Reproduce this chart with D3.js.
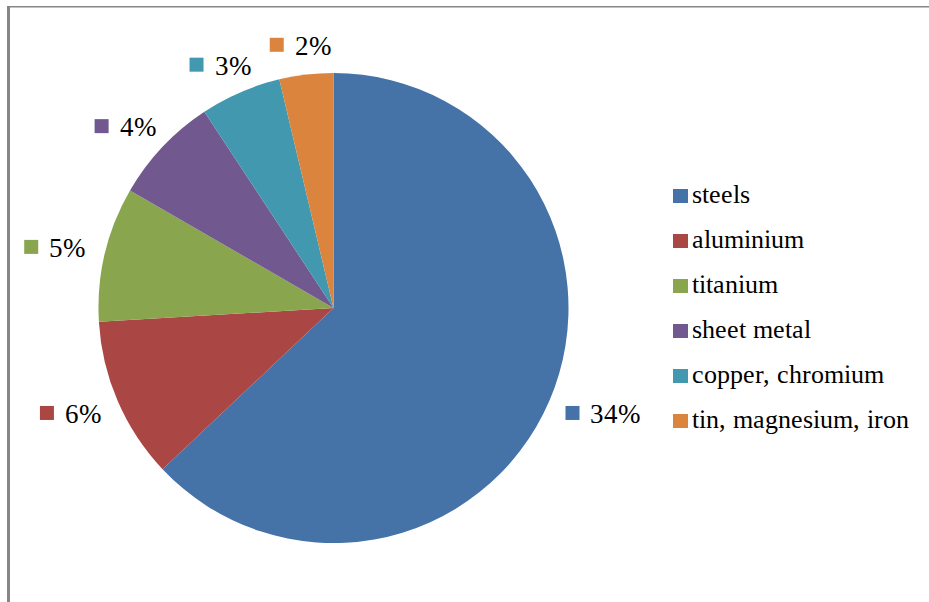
<!DOCTYPE html>
<html>
<head>
<meta charset="utf-8">
<script src="https://cdn.jsdelivr.net/npm/d3@7"></script>
<style>
  @font-face { font-family: "ChartSerif"; src: local("Liberation Serif"), local("LiberationSerif"), local("Tinos"), local("Times New Roman"); }
  html, body { margin: 0; padding: 0; background: #fff; }
  svg { display: block; font-family: "ChartSerif", "Liberation Serif", Tinos, "Times New Roman", serif; }
</style>
</head>
<body>
<svg id="chart" width="929" height="602"></svg>
<script>
const categories = ["steels", "aluminium", "titanium", "sheet metal", "copper, chromium", "tin, magnesium, iron"];
const values = [34, 6, 5, 4, 3, 2];
const labels = ["34%", "6%", "5%", "4%", "3%", "2%"];
const colors = ["#4572A7", "#AA4643", "#89A54E", "#71588F", "#4198AF", "#DB843D"];

const svg = d3.select("#chart")
  .style("font-family", '"ChartSerif", "Liberation Serif", Tinos, "Times New Roman", serif');
const W = 929, H = 602;

// frame
svg.append("rect").attr("x", 7).attr("y", 6).attr("width", 3).attr("height", H - 6).attr("fill", "#868686");
svg.append("rect").attr("x", 7).attr("y", 6).attr("width", W - 7).attr("height", 1.5).attr("fill", "#868686");

const cx = 333.5, cy = 308, r = 235;
const data = categories.map((c, i) => ({ name: c, value: values[i], label: labels[i], color: colors[i] }));

const pie = d3.pie().value(d => d.value).sort(null);
const arcs = pie(data);
const arc = d3.arc().innerRadius(0).outerRadius(r);

const g = svg.append("g").attr("transform", `translate(${cx},${cy})`);
g.selectAll("path").data(arcs).join("path")
  .attr("d", arc)
  .attr("fill", d => d.data.color);

// data labels
const labelR = 256;
const lg = svg.append("g");
arcs.forEach(a => {
  const mid = (a.startAngle + a.endAngle) / 2;
  const ux = Math.sin(mid), uy = -Math.cos(mid);
  const grp = lg.append("g");
  grp.append("rect").attr("x", 0).attr("y", -7).attr("width", 14).attr("height", 14).attr("fill", a.data.color);
  grp.append("text").attr("x", 25).attr("y", 10)
    .style("font-size", "27px").style("fill", "#000")
    .text(a.data.label);
  const bb = grp.node().getBBox();
  const w = bb.width, h = 18;
  const ccx = cx + ux * labelR + ux * w / 2;
  const ccy = cy + uy * labelR + uy * h / 2;
  grp.attr("transform", `translate(${ccx - w / 2},${ccy})`);
});

// legend
const leg = svg.append("g");
data.forEach((d, i) => {
  const y = 196 + i * 45;
  leg.append("rect").attr("x", 673).attr("y", y - 7).attr("width", 15).attr("height", 14).attr("fill", d.color);
  leg.append("text").attr("x", 692).attr("y", y + 7)
    .style("font-size", "26px").style("fill", "#000")
    .text(d.name);
});
</script>
</body>
</html>
